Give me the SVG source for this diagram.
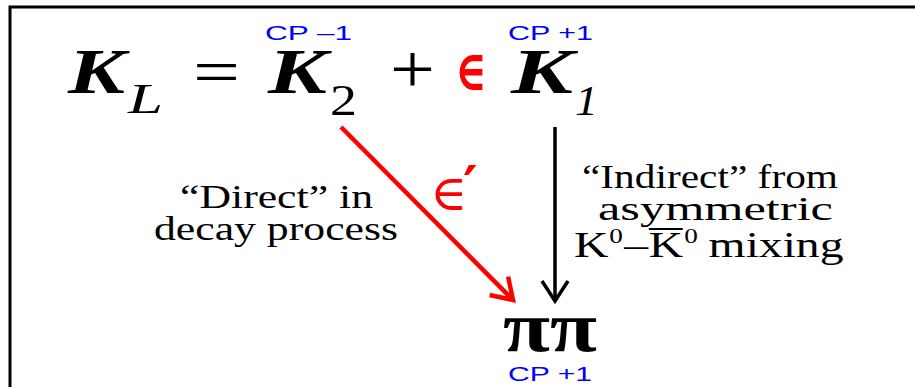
<svg xmlns="http://www.w3.org/2000/svg" width="915" height="387" viewBox="0 0 915 387">
<style>
.serif{font-family:'Liberation Serif','Times New Roman',Times,serif;fill:#000}
.kb{font-weight:bold;font-style:italic;font-size:64px}
.sub{font-style:italic;font-size:42px}
.cp{font-family:'Liberation Sans',Arial,Helvetica,sans-serif;font-size:21px;fill:#0000ff}
.lbl{font-size:34px}
.sym{font-family:'DejaVu Serif',serif;fill:#ff0000}
</style>
<defs>
<marker id="ahRed" markerUnits="userSpaceOnUse" viewBox="-24 -16 28 32" refX="0" refY="0" markerWidth="28" markerHeight="32" orient="auto" overflow="visible">
<path d="M-20,-13 L0,0 L-20,13" fill="none" stroke="#ff0000" stroke-width="4.5" stroke-linejoin="miter"/>
</marker>
<marker id="ahBlack" markerUnits="userSpaceOnUse" viewBox="-24 -16 28 32" refX="0" refY="0" markerWidth="28" markerHeight="32" orient="auto" overflow="visible">
<path d="M-20,-13 L0,0 L-20,13" fill="none" stroke="#000" stroke-width="3.5" stroke-linejoin="miter"/>
</marker>
</defs>
<rect width="915" height="387" fill="#fff"/>
<path id="frame" d="M10,387 V7 H915" fill="none" stroke="#000" stroke-width="3"/>

<g id="equation">
<text class="serif kb" x="68" y="93" textLength="57" lengthAdjust="spacingAndGlyphs">K</text>
<text class="serif sub" x="128" y="113" textLength="35" lengthAdjust="spacingAndGlyphs">L</text>
<text class="serif" x="193" y="93" font-size="64" textLength="47" lengthAdjust="spacingAndGlyphs">=</text>
<text class="serif kb" x="268" y="93" textLength="59" lengthAdjust="spacingAndGlyphs">K</text>
<text class="serif" x="330" y="115" font-size="44" textLength="27" lengthAdjust="spacingAndGlyphs">2</text>
<text class="serif" x="390" y="93" font-size="70" textLength="45" lengthAdjust="spacingAndGlyphs">+</text>
<text class="sym" x="455" y="90" font-size="56" font-weight="bold" textLength="32" lengthAdjust="spacingAndGlyphs">∈</text>
<text class="serif kb" x="511" y="93" textLength="62" lengthAdjust="spacingAndGlyphs">K</text>
<text class="serif sub" x="575" y="115" font-size="44" textLength="23" lengthAdjust="spacingAndGlyphs">1</text>
</g>

<g id="K2-cp">
<text class="cp" x="265" y="40" textLength="87" lengthAdjust="spacingAndGlyphs">CP –1</text>
</g>
<g id="K1-cp">
<text class="cp" x="508" y="40" textLength="85" lengthAdjust="spacingAndGlyphs">CP +1</text>
</g>

<g id="pipi">
<text class="serif" x="503" y="351" font-size="72" font-weight="bold" textLength="94" lengthAdjust="spacingAndGlyphs">ππ</text>
<text class="cp" x="508" y="381" textLength="84" lengthAdjust="spacingAndGlyphs">CP +1</text>
</g>

<g id="connectors">
<line x1="341" y1="127" x2="513" y2="300" stroke="#ff0000" stroke-width="4.5" marker-end="url(#ahRed)"/>
<line x1="555" y1="127" x2="555" y2="301" stroke="#000" stroke-width="3.5" marker-end="url(#ahBlack)"/>
</g>

<g id="direct-label">
<text class="sym" x="430" y="210" font-size="50"><tspan x="430" y="210">∈</tspan><tspan x="463" y="206" font-size="56" font-weight="bold">′</tspan></text>
<text class="serif lbl" x="180" y="208" textLength="193" lengthAdjust="spacingAndGlyphs">“Direct” in</text>
<text class="serif lbl" x="154" y="240" textLength="244" lengthAdjust="spacingAndGlyphs">decay process</text>
</g>

<g id="indirect-label">
<text class="serif lbl" x="582" y="188" font-size="35" textLength="256" lengthAdjust="spacingAndGlyphs">“Indirect” from</text>
<text class="serif lbl" x="598" y="220" font-size="35" textLength="235" lengthAdjust="spacingAndGlyphs">asymmetric</text>
<g transform="translate(574,257) scale(1.36,1)">
<text class="serif" font-size="35" x="0" y="0">K</text>
<text class="serif" font-size="20" x="26" y="-14">0</text>
<text class="serif" font-size="35" x="37" y="0">–</text>
<text class="serif" font-size="35" x="55" y="0">K</text>
<line x1="55" y1="-28" x2="80" y2="-28" stroke="#000" stroke-width="2"/>
<text class="serif" font-size="20" x="81" y="-14">0</text>
<text class="serif" font-size="35" x="99" y="0">mixing</text>
</g>
</g>
</svg>
